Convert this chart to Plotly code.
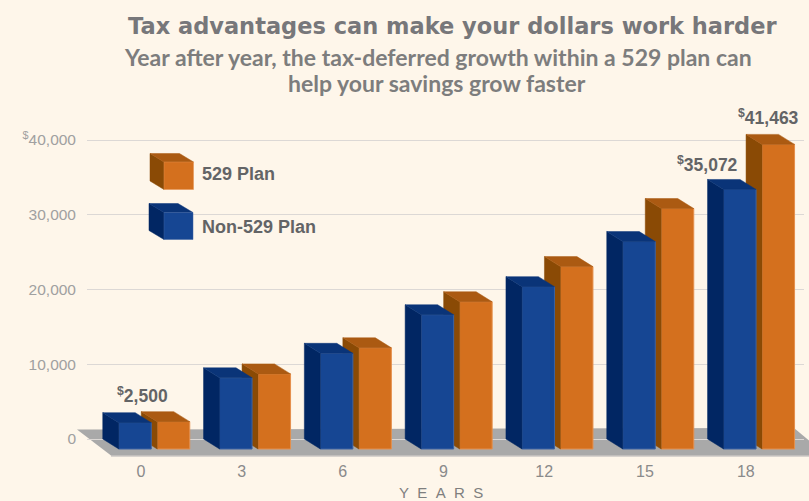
import plotly.graph_objects as go

# ---- data ----
years = ["0", "3", "6", "9", "12", "15", "18"]
non529_values = [3525, 9520, 12800, 17960, 21720, 27750, 34720]
plan529_values = [3660, 10050, 13540, 19700, 24400, 32170, 40750]
label_texts = ["<sup>$</sup>2,500", "<sup>$</sup>35,072", "<sup>$</sup>41,463"]
y_ticks = [0, 10000, 20000, 30000, 40000]
y_tick_labels = ["0", "10,000", "20,000", "30,000", "<sup>$</sup>40,000"]

# ---- style / layout ----
W, H = 809, 501
L, R, T, B = 87, 804, 100, 460
PX_X = 100.8
X0 = 141.0
PX_Y = 74.75 / 10000
Y0 = 439.0
BG = "#fef6ea"
BLUE = ("#164693", "#0a3478", "#012663", "#3c63a3")
ORANGE = ("#d4701e", "#ab5a12", "#8a4a05", "#e58f4c")
DX = 16 / PX_X
DY = 10 / PX_Y
WIDTH = 32.5 / PX_X
OFF_BLUE = -6.0 / PX_X
OFF_ORANGE = 32.5 / PX_X
xr = [(L - X0) / PX_X, (R - X0) / PX_X]
yr = [(Y0 - B) / PX_Y, (Y0 - T) / PX_Y]


def px(x):
    return (x - L) / (R - L)


def py(y):
    return (B - y) / (B - T)


def path(points):
    return "M" + " L".join(f"{px(a):.5f},{py(b):.5f}" for a, b in points) + " Z"


fig = go.Figure()


def add_series(values, name, colours, off, xa, ya):
    front, top, side, edge = colours
    xs = [i + off for i in range(len(values))]
    fig.add_trace(go.Bar(x=xs, y=values, base=[-DY] * len(values), width=WIDTH, name=name,
                         marker=dict(color=front, line=dict(color=edge, width=1)),
                         xaxis=xa, yaxis=ya, showlegend=False, hoverinfo="skip"))
    sx, sy, tx, ty = [], [], [], []
    for c, v in zip(xs, values):
        l, r = c - WIDTH / 2, c + WIDTH / 2
        ft = v - DY
        sx += [l, l - DX, l - DX, l, l, None]
        sy += [ft, v, 0, -DY, ft, None]
        tx += [l, r, r - DX, l - DX, l, None]
        ty += [ft, ft, v, v, ft, None]
    fig.add_trace(go.Scatter(x=sx, y=sy, fill="toself", fillcolor=side, mode="lines",
                             line=dict(color=side, width=0.5), xaxis=xa, yaxis=ya,
                             showlegend=False, hoverinfo="skip"))
    fig.add_trace(go.Scatter(x=tx, y=ty, fill="toself", fillcolor=top, mode="lines",
                             line=dict(color=top, width=0.5), xaxis=xa, yaxis=ya,
                             showlegend=False, hoverinfo="skip"))


add_series(plan529_values, "529 Plan", ORANGE, OFF_ORANGE, "x", "y")
add_series(non529_values, "Non-529 Plan", BLUE, OFF_BLUE, "x2", "y2")

shapes = [
    dict(type="path", xref="paper", yref="paper", layer="below", line=dict(width=0),
         fillcolor=BG, path=path([(85, 437), (95, 437), (95, 441), (85, 441)])),
    dict(type="path", xref="paper", yref="paper", layer="below", line=dict(width=0),
         fillcolor="#d8d3ce", path=path([(111, 457), (809, 457), (809, 455), (111, 455)])),
    dict(type="path", xref="paper", yref="paper", layer="below", line=dict(width=0),
         fillcolor="#a9a9a9", path=path([(77, 429.5), (794, 428), (812, 443), (812, 455.5), (111, 455.5)])),
]


def cube(x0, x1, y0, y1, dx, dy, colours):
    front, top, side, edge = colours
    for pts, col in [
        ([(x0, y0), (x0 - dx, y0 - dy), (x0 - dx, y1 - dy), (x0, y1)], side),
        ([(x0, y0), (x1, y0), (x1 - dx, y0 - dy), (x0 - dx, y0 - dy)], top),
        ([(x0, y0), (x1, y0), (x1, y1), (x0, y1)], front),
    ]:
        shapes.append(dict(type="path", xref="paper", yref="paper", layer="above",
                           line=dict(width=0.5, color=edge if col == front else col),
                           fillcolor=col, path=path(pts)))


cube(164, 193.5, 162, 189.5, 14, 8.5, ORANGE)
cube(164, 193, 212.5, 239.5, 15, 9, BLUE)


def note(text, x, y, size, color, family="Liberation Sans", bold=True, anchor="center"):
    t = f"<b>{text}</b>" if bold else text
    return dict(text=t, xref="paper", yref="paper", x=px(x), y=py(y), showarrow=False,
                xanchor=anchor, yanchor="middle", font=dict(family=family, size=size, color=color))


annotations = [
    note("Tax advantages can make your dollars work harder", 452, 26, 22.5, "#77777a", "DejaVu Sans"),
    note("Year after year, the tax-deferred growth within a 529 plan can", 438, 57, 23, "#7d7d7d", "Lato"),
    note("help your savings grow faster", 437, 83, 23, "#7d7d7d", "Lato"),
    note(label_texts[0], 142.5, 395, 17.5, "#636466"),
    note(label_texts[1], 707.5, 164, 17.5, "#636466"),
    note(label_texts[2], 768.5, 117, 17.5, "#636466"),
    note("529 Plan", 199.5, 174, 18, "#636466", anchor="left"),
    note("Non-529 Plan", 199.5, 227, 18, "#636466", anchor="left"),
    note("Y\u00a0\u00a0E\u00a0\u00a0A\u00a0\u00a0R\u00a0\u00a0S", 441, 493, 15, "#7f7f7f", bold=False),
]

fig.update_layout(
    width=W, height=H, autosize=False,
    margin=dict(l=L, r=W - R, t=T, b=H - B, autoexpand=False),
    paper_bgcolor=BG, plot_bgcolor=BG, barmode="overlay", showlegend=False,
    xaxis=dict(range=xr, tickmode="array", tickvals=list(range(len(years))), ticktext=years,
               showgrid=False, zeroline=False, showline=False, ticks="",
               tickfont=dict(family="Liberation Sans", size=16, color="#8a8a8a")),
    yaxis=dict(range=yr, tickmode="array", tickvals=y_ticks, ticktext=y_tick_labels,
               showgrid=True, gridcolor="#dcd8d5", gridwidth=1, zeroline=False, showline=False,
               ticks="", ticklabelstandoff=10,
               tickfont=dict(family="Liberation Sans", size=15.5, color="#a0a0a0")),
    xaxis2=dict(range=xr, overlaying="x", visible=False),
    yaxis2=dict(range=yr, overlaying="y", visible=False),
    shapes=shapes, annotations=annotations,
)
fig.write_html("out.html", config=dict(displayModeBar=False),
               post_script="document.body.style.margin='0';")
